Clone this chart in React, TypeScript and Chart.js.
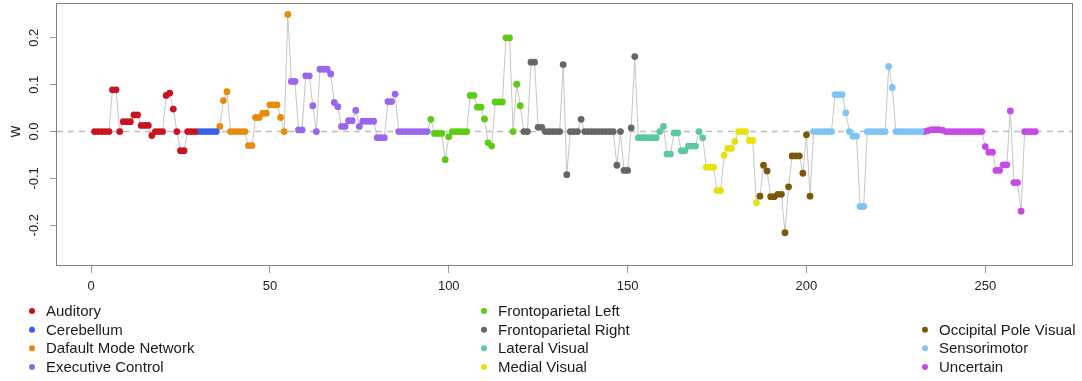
import React, { useEffect, useRef } from "react";
import { Chart, registerables } from "chart.js";

Chart.register(...registerables);

// ---- data ----
const groupNames = [
  "Auditory",
  "Cerebellum",
  "Dafault Mode Network",
  "Executive Control",
  "Frontoparietal Left",
  "Frontoparietal Right",
  "Lateral Visual",
  "Medial Visual",
  "Occipital Pole Visual",
  "Sensorimotor",
  "Uncertain",
];

const groupColors = [
  "#C9141F",
  "#3A5FE5",
  "#EA8A0B",
  "#9A66EE",
  "#5DCB12",
  "#666666",
  "#5BC8A0",
  "#E8E10A",
  "#7A5A0A",
  "#7EC4F5",
  "#C848E8",
];

const auditory = [
  0, 0, 0, 0, 0, 0.089, 0.089, 0, 0.021, 0.021, 0.021, 0.0355, 0.0355, 0.013,
  0.013, 0.013, -0.0085, 0, 0, 0, 0.077, 0.082, 0.048, 0, -0.041, -0.041, 0, 0, 0,
];
const cerebellum = [0, 0, 0, 0, 0, 0];
const defaultMode = [
  0.011, 0.066, 0.085, 0, 0, 0, 0, 0, -0.03, -0.03, 0.03, 0.03, 0.039, 0.039,
  0.057, 0.057, 0.057, 0.03, 0, 0.25,
];
const executiveControl = [
  0.107, 0.107, 0.0035, 0.0035, 0.119, 0.119, 0.055, 0, 0.133, 0.133, 0.133,
  0.123, 0.062, 0.053, 0.011, 0.011, 0.023, 0.023, 0.045, 0.011, 0.022, 0.022,
  0.022, 0.022, -0.013, -0.013, -0.013, 0.064, 0.064, 0.08, 0, 0, 0, 0, 0, 0, 0,
  0, 0,
];
const frontoLeft = [
  0.026, -0.004, -0.004, -0.004, -0.06, -0.011, 0, 0, 0, 0, 0, 0.077, 0.077,
  0.052, 0.052, 0.027, -0.024, -0.031, 0.063, 0.063, 0.063, 0.2, 0.2, 0, 0.101,
  0.055,
];
const frontoRight = [
  0, 0, 0.148, 0.148, 0.009, 0.009, 0, 0, 0, 0, 0, 0.143, -0.092, 0, 0, 0, 0.026,
  0, 0, 0, 0, 0, 0, 0, 0, 0, -0.072, 0, -0.083, -0.083, 0.008, 0.16,
];
const lateralVisual = [
  -0.013, -0.013, -0.013, -0.013, -0.013, -0.013, 0, 0.011, -0.048, -0.048,
  -0.003, -0.003, -0.041, -0.041, -0.031, -0.031, -0.031, 0, -0.0135,
];
const medialVisual = [
  -0.076, -0.076, -0.076, -0.126, -0.126, -0.051, -0.036, -0.036, -0.021, 0, 0,
  0, -0.019, -0.019, -0.152,
];
const occipitalPole = [
  -0.138, -0.072, -0.084, -0.139, -0.139, -0.134, -0.134, -0.216, -0.118,
  -0.052, -0.052, -0.052, -0.089, -0.007, -0.138,
];
const sensorimotor = [
  0, 0, 0, 0, 0, 0, 0.079, 0.079, 0.079, 0.04, 0, -0.01, -0.01, -0.16, -0.16, 0,
  0, 0, 0, 0, 0, 0.139, 0.094, 0, 0, 0, 0, 0, 0, 0, 0,
];
const uncertain = [
  0, 0.002, 0.004, 0.004, 0.004, 0.003, 0, 0, 0, 0, 0, 0, 0, 0, 0, 0, 0, -0.032,
  -0.044, -0.044, -0.083, -0.083, -0.071, -0.071, 0.044, -0.109, -0.109, -0.17,
  0, 0, 0, 0,
];

const groupValues = [
  auditory,
  cerebellum,
  defaultMode,
  executiveControl,
  frontoLeft,
  frontoRight,
  lateralVisual,
  medialVisual,
  occipitalPole,
  sensorimotor,
  uncertain,
];

const xTicks = [0, 50, 100, 150, 200, 250];
const yTicks = [-0.2, -0.1, 0, 0.1, 0.2];
const yTickLabels = ["-0.2", "-0.1", "0.0", "0.1", "0.2"];
const yAxisTitle = "w";

// legend placement: [column, row] for each group
const legendSlots = [
  [0, 0], [0, 1], [0, 2], [0, 3],
  [1, 0], [1, 1], [1, 2], [1, 3],
  [2, 1], [2, 2], [2, 3],
];

// ---- layout / style ----
const W = 1082;
const H = 381;
const FONT = "'Liberation Sans', Arial, Helvetica, sans-serif";
const legendColX = [32, 484, 925];
const legendRowY0 = 311;
const legendRowStep = 18.67;

export default function App() {
  const canvasRef = useRef<HTMLCanvasElement | null>(null);

  useEffect(() => {
    const canvas = canvasRef.current;
    if (!canvas) return;

    const allPoints: { x: number; y: number }[] = [];
    const groupPoints: { x: number; y: number }[][] = [];
    let idx = 1;
    groupValues.forEach((vals) => {
      const pts: { x: number; y: number }[] = [];
      vals.forEach((v) => {
        const p = { x: idx, y: v };
        pts.push(p);
        allPoints.push(p);
        idx++;
      });
      groupPoints.push(pts);
    });
    const n = allPoints.length;
    const xPad = (n - 1) * 0.04;
    const xMin = 1 - xPad;
    const xMax = n + xPad;

    const overlay = {
      id: "overlay",
      afterDraw(chart: any) {
        const ctx = chart.ctx as CanvasRenderingContext2D;
        const ca = chart.chartArea;
        const yScale = chart.scales.y;
        ctx.save();
        // box
        ctx.strokeStyle = "#808080";
        ctx.lineWidth = 1;
        ctx.strokeRect(
          Math.round(ca.left) - 0.5,
          Math.round(ca.top) + 0.5,
          Math.round(ca.right) - Math.round(ca.left),
          Math.round(ca.bottom) - Math.round(ca.top) - 1
        );
        // y tick labels (rotated, R style)
        ctx.fillStyle = "#222";
        ctx.font = `13px ${FONT}`;
        ctx.textAlign = "center";
        ctx.textBaseline = "alphabetic";
        yTicks.forEach((v, i) => {
          const py = yScale.getPixelForValue(v);
          ctx.save();
          ctx.translate(38, py);
          ctx.rotate(-Math.PI / 2);
          ctx.fillText(yTickLabels[i], 0, 0);
          ctx.restore();
        });
        // y title
        ctx.font = `16px ${FONT}`;
        ctx.save();
        ctx.translate(20, yScale.getPixelForValue(0));
        ctx.rotate(-Math.PI / 2);
        ctx.fillText(yAxisTitle, 0, 0);
        ctx.restore();
        // legend
        ctx.font = `15px ${FONT}`;
        ctx.textAlign = "left";
        ctx.textBaseline = "middle";
        groupNames.forEach((name, i) => {
          const [c, r] = legendSlots[i];
          const mx = legendColX[c];
          const my = legendRowY0 + r * legendRowStep;
          ctx.fillStyle = groupColors[i];
          ctx.beginPath();
          ctx.arc(mx, my, 3, 0, Math.PI * 2);
          ctx.fill();
          ctx.fillStyle = "#1a1a1a";
          ctx.fillText(name, mx + 14, my + 1);
        });
        ctx.restore();
      },
    };

    const datasets: any[] = [
      {
        label: "zero",
        data: [
          { x: xMin, y: 0 },
          { x: xMax, y: 0 },
        ],
        showLine: true,
        borderColor: "#bdbdbd",
        borderWidth: 1.5,
        borderDash: [6, 5],
        pointRadius: 0,
        order: 3,
      },
      {
        label: "path",
        data: allPoints,
        showLine: true,
        borderColor: "#c6c6c6",
        borderWidth: 1,
        pointRadius: 0,
        tension: 0,
        order: 2,
      },
      ...groupPoints.map((pts, i) => ({
        label: groupNames[i],
        data: pts,
        showLine: false,
        backgroundColor: groupColors[i],
        borderColor: groupColors[i],
        borderWidth: 0,
        pointRadius: 3.4,
        pointHoverRadius: 3.4,
        order: 1,
      })),
    ];

    const chart = new Chart(canvas, {
      type: "scatter",
      data: { datasets },
      options: {
        animation: false,
        responsive: false,
        devicePixelRatio: 1,
        events: [],
        layout: { padding: { left: 0, right: 9, top: 3, bottom: 0 } },
        plugins: {
          legend: { display: false },
          tooltip: { enabled: false },
        },
        scales: {
          x: {
            type: "linear",
            min: xMin,
            max: xMax,
            afterBuildTicks: (s: any) => {
              s.ticks = xTicks.map((v) => ({ value: v }));
            },
            afterFit: (s: any) => {
              s.height = 115;
            },
            ticks: {
              autoSkip: false,
              maxRotation: 0,
              minRotation: 0,
              padding: 6,
              color: "#222",
              font: { family: FONT, size: 13 },
              callback: (v: any) => String(v),
            },
            grid: {
              drawOnChartArea: false,
              drawTicks: true,
              tickLength: 7,
              color: "#999",
            },
            border: { display: false },
          },
          y: {
            type: "linear",
            min: -0.287,
            max: 0.2735,
            afterBuildTicks: (s: any) => {
              s.ticks = yTicks.map((v) => ({ value: v }));
            },
            afterFit: (s: any) => {
              s.width = 57;
              s.paddingTop = 0;
              s.paddingBottom = 0;
            },
            ticks: {
              display: false,
            },
            grid: {
              drawOnChartArea: false,
              drawTicks: true,
              tickLength: 7,
              color: "#999",
            },
            border: { display: false },
          },
        },
      },
      plugins: [overlay],
    });

    return () => {
      chart.destroy();
    };
  }, []);

  return (
    <div
      style={{
        position: "fixed",
        left: 0,
        top: 0,
        width: W,
        height: H,
        background: "#fff",
      }}
    >
      <canvas
        ref={canvasRef}
        width={W}
        height={H}
        style={{ width: W, height: H, display: "block" }}
      />
    </div>
  );
}
